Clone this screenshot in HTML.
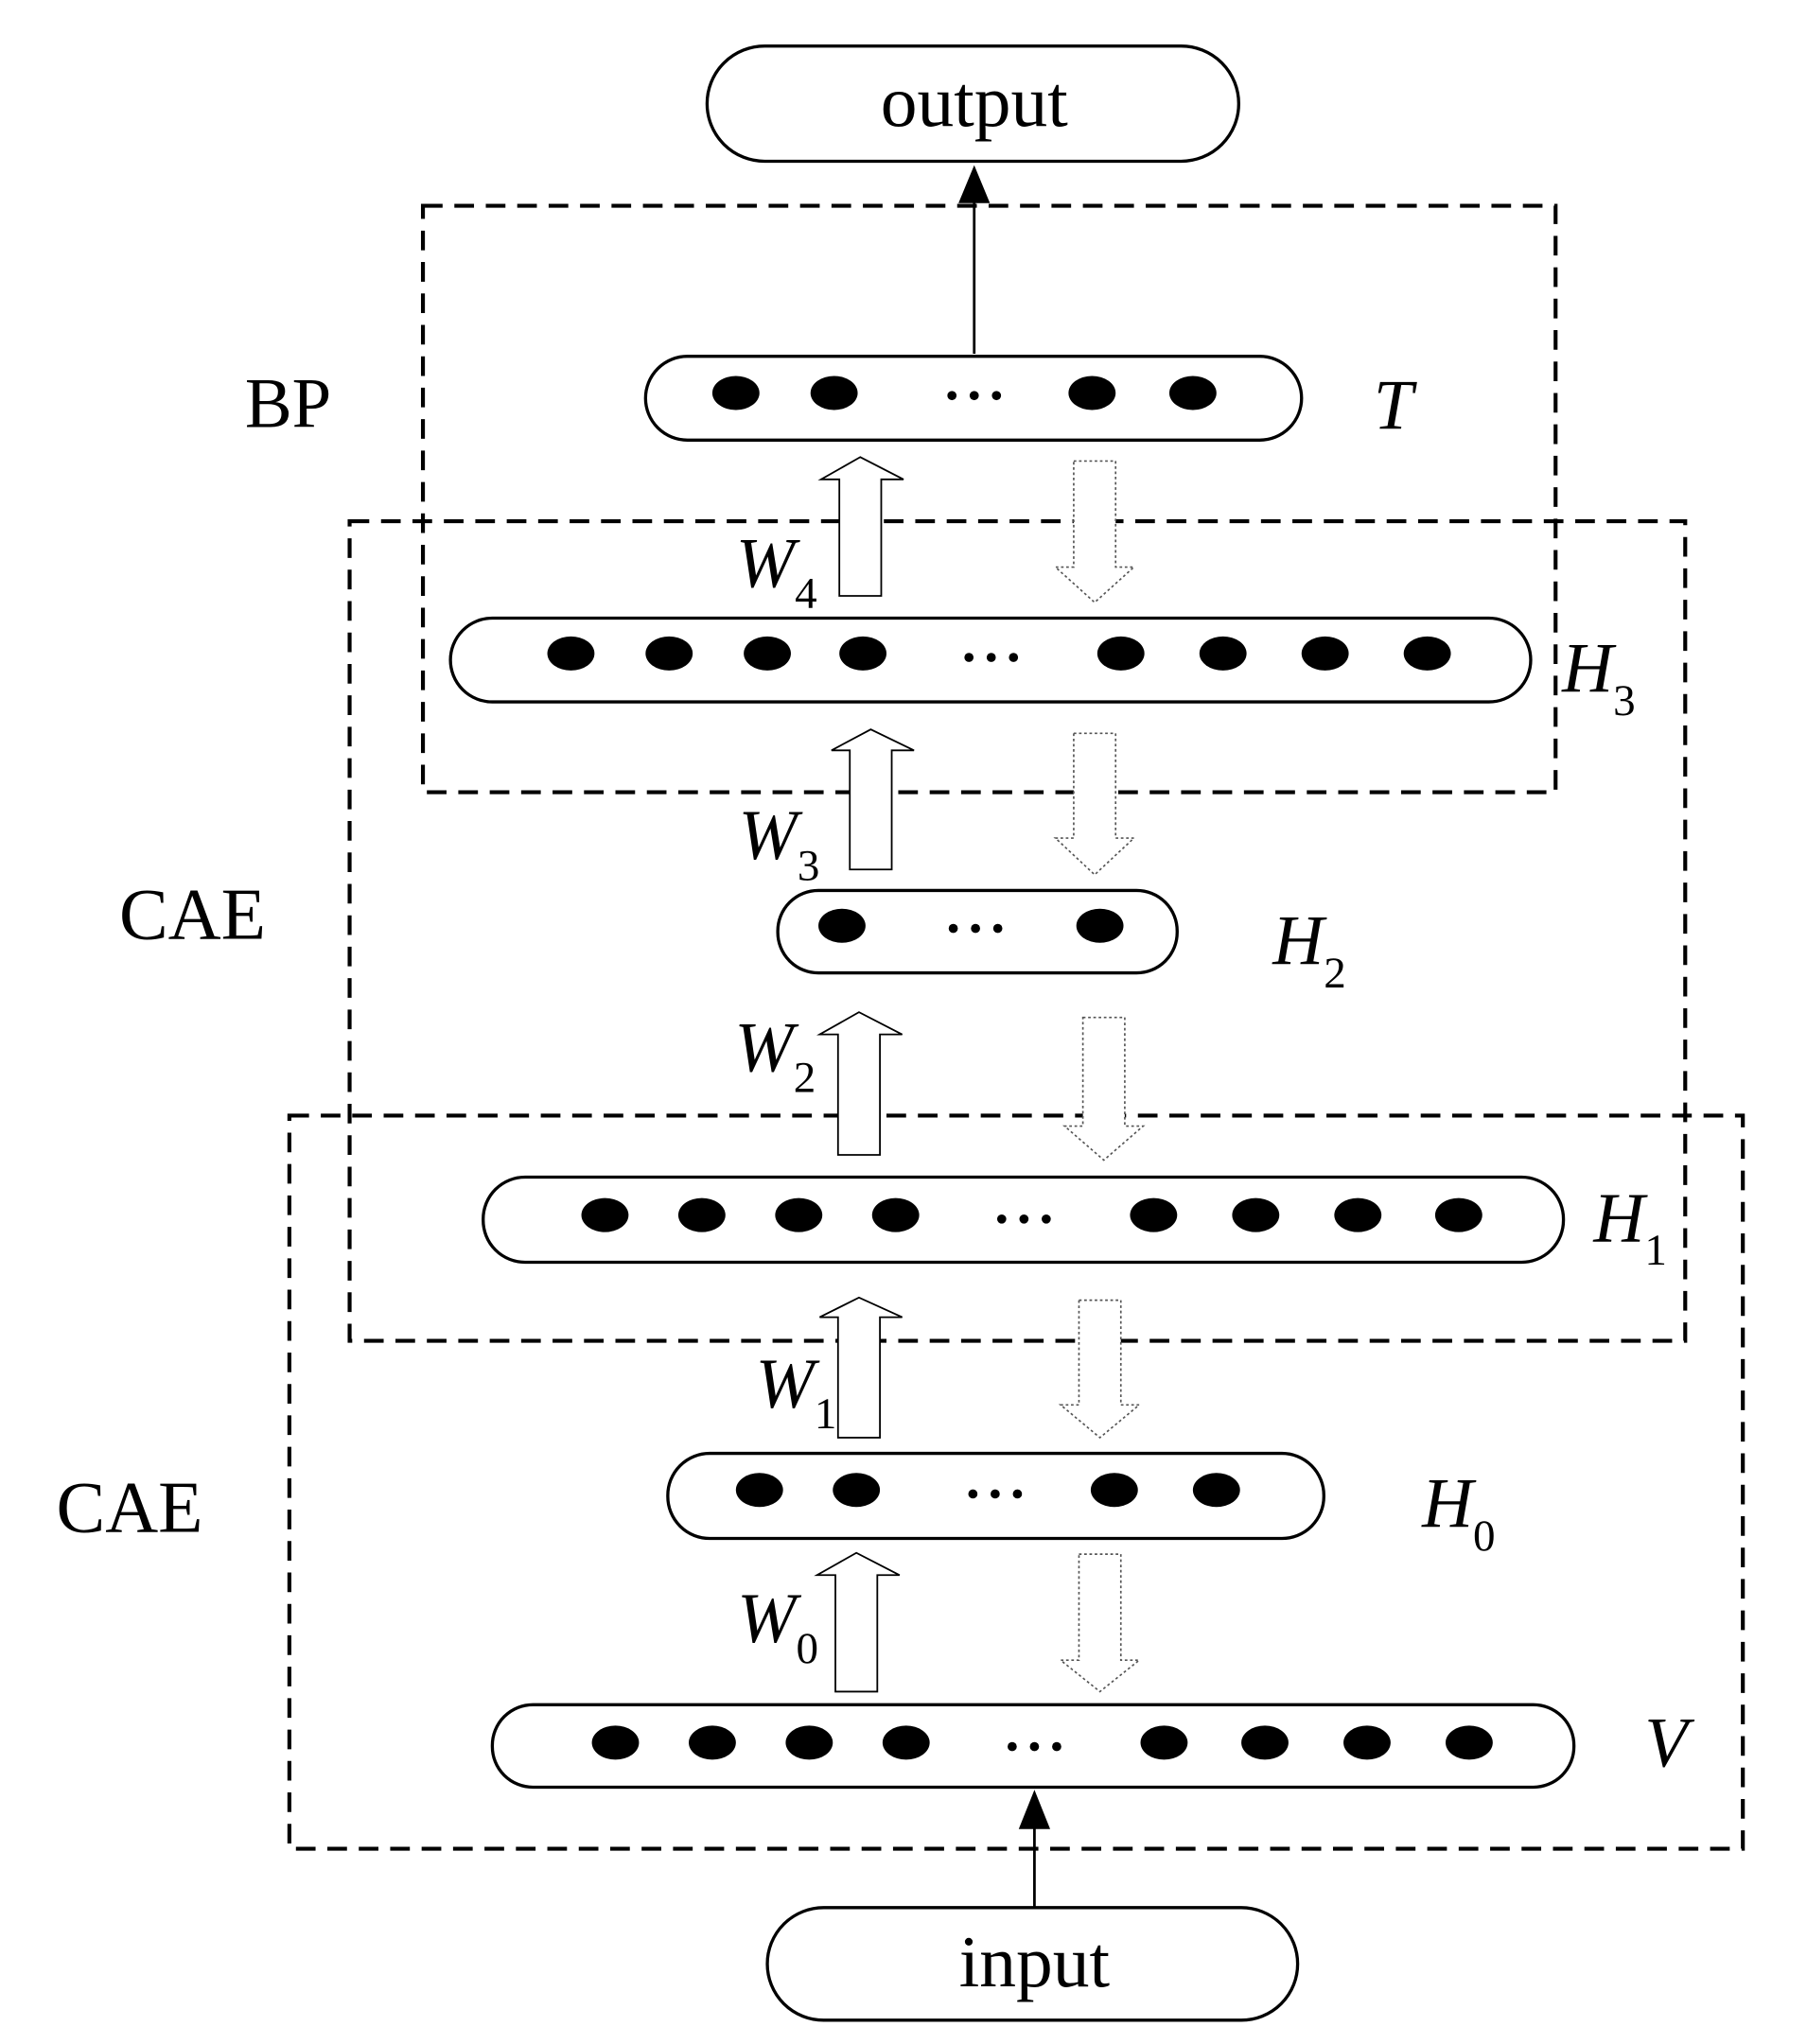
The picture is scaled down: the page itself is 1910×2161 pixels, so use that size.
<!DOCTYPE html>
<html><head><style>
html,body{margin:0;padding:0;background:#fff;}
svg{display:block;}
text{font-family:"Liberation Serif",serif;fill:#000;}
.it{font-style:italic;}
</style></head><body>
<svg width="1910" height="2161" viewBox="0 0 1380 1561" xmlns="http://www.w3.org/2000/svg">
<g fill="none" stroke="#000" stroke-width="3" stroke-dasharray="15,9">
<rect x="323" y="157" width="865" height="448"/>
<rect x="267" y="398" width="1020" height="626"/>
<rect x="221" y="852" width="1110" height="560"/>
</g>
<g fill="#fff" stroke="#000" stroke-width="2.4">
<rect x="540" y="35" width="406" height="88" rx="44"/>
<rect x="586" y="1457" width="405" height="86" rx="43"/>
<rect x="493" y="272" width="501" height="64" rx="32"/>
<rect x="344" y="472" width="825" height="64" rx="32"/>
<rect x="594" y="680" width="305" height="63" rx="31"/>
<rect x="369" y="899" width="825" height="65" rx="32"/>
<rect x="510" y="1110" width="501" height="65" rx="32"/>
<rect x="376" y="1302" width="826" height="63" rx="31"/>
</g>
<g stroke="#000" stroke-width="2">
<line x1="744" y1="270" x2="744" y2="150"/>
<line x1="790" y1="1457" x2="790" y2="1392"/>
</g>
<polygon points="744,126 732,155 756,155" fill="#000"/>
<polygon points="790,1367 778,1397 802,1397" fill="#000"/>
<g fill="#fff" stroke="#000" stroke-width="1.3">
<polygon points="641,455 641,366 627,366 657,349 690,366 673,366 673,455"/>
<polygon points="649,664 649,573 635,573 665,557 698,573 681,573 681,664"/>
<polygon points="640,882 640,790 626,790 656,773 689,790 672,790 672,882"/>
<polygon points="640,1098 640,1006 626,1006 656,991 689,1006 672,1006 672,1098"/>
<polygon points="638,1292 638,1203 624,1203 654,1186 687,1203 670,1203 670,1292"/>
</g>
<g fill="#fff" stroke="#555" stroke-width="1.2" stroke-dasharray="2,2">
<polygon points="820,352 852,352 852,433 866,433 836,460 806,433 820,433"/>
<polygon points="820,560 852,560 852,640 866,640 836,668 806,640 820,640"/>
<polygon points="827,777 859,777 859,860 873,860 843,886 813,860 827,860"/>
<polygon points="824,993 856,993 856,1073 870,1073 840,1098 810,1073 824,1073"/>
<polygon points="824,1187 856,1187 856,1268 870,1268 840,1292 810,1268 824,1268"/>
</g>
<g fill="#000">
<ellipse cx="562" cy="300" rx="18" ry="13"/><ellipse cx="637" cy="300" rx="18" ry="13"/>
<ellipse cx="834" cy="300" rx="18" ry="13"/><ellipse cx="911" cy="300" rx="18" ry="13"/>
<circle cx="727" cy="302" r="3.5"/><circle cx="744" cy="302" r="3.5"/><circle cx="761" cy="302" r="3.5"/>

<ellipse cx="436" cy="499" rx="18" ry="13"/><ellipse cx="511" cy="499" rx="18" ry="13"/><ellipse cx="586" cy="499" rx="18" ry="13"/><ellipse cx="659" cy="499" rx="18" ry="13"/>
<ellipse cx="856" cy="499" rx="18" ry="13"/><ellipse cx="934" cy="499" rx="18" ry="13"/><ellipse cx="1012" cy="499" rx="18" ry="13"/><ellipse cx="1090" cy="499" rx="18" ry="13"/>
<circle cx="740" cy="502" r="3.5"/><circle cx="757" cy="502" r="3.5"/><circle cx="774" cy="502" r="3.5"/>

<ellipse cx="643" cy="707" rx="18" ry="13"/><ellipse cx="840" cy="707" rx="18" ry="13"/>
<circle cx="728" cy="709" r="3.5"/><circle cx="745" cy="709" r="3.5"/><circle cx="762" cy="709" r="3.5"/>

<ellipse cx="462" cy="928" rx="18" ry="13"/><ellipse cx="536" cy="928" rx="18" ry="13"/><ellipse cx="610" cy="928" rx="18" ry="13"/><ellipse cx="684" cy="928" rx="18" ry="13"/>
<ellipse cx="881" cy="928" rx="18" ry="13"/><ellipse cx="959" cy="928" rx="18" ry="13"/><ellipse cx="1037" cy="928" rx="18" ry="13"/><ellipse cx="1114" cy="928" rx="18" ry="13"/>
<circle cx="765" cy="931" r="3.5"/><circle cx="782" cy="931" r="3.5"/><circle cx="799" cy="931" r="3.5"/>

<ellipse cx="580" cy="1138" rx="18" ry="13"/><ellipse cx="654" cy="1138" rx="18" ry="13"/>
<ellipse cx="851" cy="1138" rx="18" ry="13"/><ellipse cx="929" cy="1138" rx="18" ry="13"/>
<circle cx="743" cy="1141" r="3.5"/><circle cx="760" cy="1141" r="3.5"/><circle cx="777" cy="1141" r="3.5"/>

<ellipse cx="470" cy="1331" rx="18" ry="13"/><ellipse cx="544" cy="1331" rx="18" ry="13"/><ellipse cx="618" cy="1331" rx="18" ry="13"/><ellipse cx="692" cy="1331" rx="18" ry="13"/>
<ellipse cx="889" cy="1331" rx="18" ry="13"/><ellipse cx="966" cy="1331" rx="18" ry="13"/><ellipse cx="1044" cy="1331" rx="18" ry="13"/><ellipse cx="1122" cy="1331" rx="18" ry="13"/>
<circle cx="773" cy="1334" r="3.5"/><circle cx="790" cy="1334" r="3.5"/><circle cx="807" cy="1334" r="3.5"/>
</g>
<text x="744" y="96" font-size="56" text-anchor="middle">output</text>
<text x="790" y="1517" font-size="56" text-anchor="middle">input</text>
<text x="187" y="326" font-size="54">BP</text>
<text x="91" y="717" font-size="56">CAE</text>
<text x="43" y="1170" font-size="56">CAE</text>
<text class="it" x="1049" y="327" font-size="54">T</text>
<text class="it" x="1193" y="528" font-size="54">H<tspan font-size="34" font-style="normal" dy="18">3</tspan></text>
<text class="it" x="972" y="736" font-size="54">H<tspan font-size="34" font-style="normal" dy="18">2</tspan></text>
<text class="it" x="1217" y="948" font-size="54">H<tspan font-size="34" font-style="normal" dy="18">1</tspan></text>
<text class="it" x="1086" y="1166" font-size="54">H<tspan font-size="34" font-style="normal" dy="18">0</tspan></text>
<text class="it" x="1256" y="1349" font-size="54">V</text>
<text class="it" x="562" y="448" font-size="54">W<tspan font-size="34" font-style="normal" dy="16">4</tspan></text>
<text class="it" x="564" y="656" font-size="54">W<tspan font-size="34" font-style="normal" dy="16">3</tspan></text>
<text class="it" x="561" y="818" font-size="54">W<tspan font-size="34" font-style="normal" dy="16">2</tspan></text>
<text class="it" x="577" y="1075" font-size="54">W<tspan font-size="34" font-style="normal" dy="16">1</tspan></text>
<text class="it" x="563" y="1254" font-size="54">W<tspan font-size="34" font-style="normal" dy="16">0</tspan></text>
</svg>
</body></html>
